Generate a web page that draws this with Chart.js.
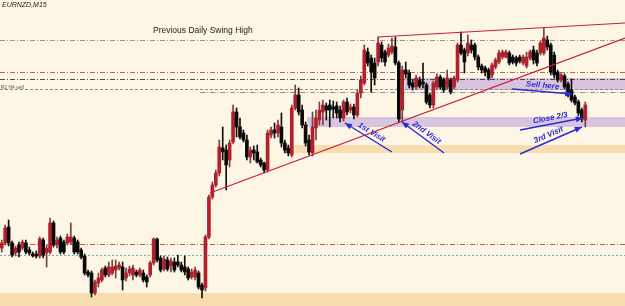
<!DOCTYPE html>
<html>
<head>
<meta charset="utf-8">
<script src="https://cdn.jsdelivr.net/npm/chart.js@4.4.1/dist/chart.umd.min.js"></script>
<style>
html,body{margin:0;padding:0;background:#fdf6e4;overflow:hidden}
canvas{display:block}
</style>
</head>
<body>
<canvas id="c" width="625" height="306"></canvas>
<script>
// === Data: EURNZD M15 candles, price in chart units (0 = bottom edge of the window) ===
const symbol = 'EURNZD,M15';
const opens = [58,63,79,63,53,61,58,63,56,52, 52,50,66,53,54,83,61,68,64,63, 64,68,64,56,50,34,33,13,23,26,
  38,31,33,36,38,39,28,33,31,34, 31,33,29,31,43,67,48,37,46,40, 44,44,41,39,37,29,29,33,21,18,
  69,109,121,133,158,156,146,164,194,179, 173,166,149,156,154,146,143,136,171,176, 173,179,163,158,151,198,211,196,181,166,
  153,178,186,194,200,201,199,200,196,188, 204,196,199,191,213,223,254,248,243,244, 261,254,251,254,259,243,196,236,233,223,
  219,226,224,221,211,201,219,229,226,219, 226,219,226,261,256,253,261,261,249,240, 238,236,231,239,244,249,249,253,249,248,
  249,243,240,248,256,253,253,253,266,261, 251,234,226,230,222,216,209,204,196,186];
const highs = [66,81,86,65,60,64,66,66,59,54, 55,69,68,61,88,85,69,70,66,72, 83,70,66,58,52,36,35,26,33,38,
  40,44,46,46,44,44,38,40,41,36, 38,36,31,45,68,68,50,50,49,48, 48,51,44,50,39,37,39,35,23,71,
  111,124,136,166,179,161,166,201,198,188, 176,171,159,160,161,148,144,176,179,183, 186,193,166,161,201,221,218,201,184,171,
  194,196,204,206,203,206,205,204,200,206, 208,202,202,216,230,261,258,251,248,269, 264,256,262,268,269,245,240,244,236,226,
  231,229,243,223,213,225,232,231,228,236, 228,230,263,274,258,271,266,263,251,242, 240,238,243,248,256,256,256,255,251,250,
  251,251,254,256,260,256,265,278,270,263, 254,236,233,232,224,227,211,206,198,204];
const lows = [54,61,60,49,50,49,56,52,51,49, 48,48,48,39,52,59,58,52,52,61, 62,52,52,47,31,29,9,11,19,24,
  29,29,31,28,36,16,25,30,26,29, 29,24,19,29,41,44,34,35,35,34, 34,39,34,31,26,27,26,17,8,15,
  67,107,119,130,146,116,139,162,169,167, 164,146,143,146,143,139,133,134,168,168, 169,159,153,150,149,196,191,178,160,151,
  150,166,181,181,186,179,188,188,184,185, 191,193,187,189,208,221,240,214,221,240, 244,240,249,252,241,184,185,228,218,216,
  217,218,218,202,198,198,217,217,214,217, 212,217,224,251,233,250,253,246,236,233, 230,226,228,237,242,247,248,241,242,240,
  243,241,238,246,242,240,251,251,256,231, 228,224,224,217,209,204,201,190,184,179];
const closes = [63,78,63,51,58,54,64,54,53,50, 50,67,51,58,83,61,66,54,54,69, 69,54,54,49,33,31,13,24,28,36,
  31,39,39,40,41,26,33,37,38,31, 36,26,24,43,67,46,36,47,37,45, 36,41,36,34,28,34,36,19,16,69,
  109,121,133,159,154,141,163,194,179,169, 166,149,156,153,144,141,136,173,176,173, 181,163,156,153,198,211,194,181,163,154,
  179,188,196,201,196,196,197,193,188,204, 194,199,191,213,226,256,243,234,228,263, 248,244,258,260,243,187,236,232,221,219,
  228,220,222,204,201,223,229,219,216,228, 214,228,261,253,244,263,256,249,239,236, 234,228,241,246,253,254,254,243,244,243,
  245,249,249,254,246,243,263,268,259,234, 231,226,231,219,211,206,203,193,187,201];
const slots = 181; // bar slots across the window (candles + empty space on the right)

// horizontal levels: price and the bar index where each one starts
const levelPrices = [266, 234, 227, 217, 214, 62, 51];
const levelStart  = [-0.5, -0.5, -0.5, -0.5, 57.5, -0.5, -0.5];
// zones: [low, high] and start index (they run to the right edge)
const zoneRanges = [[0,13], [153,161], [179,189], [216,228]];
const zoneStart  = [-0.5, 81.5, 88.4, 116.8];
// trendlines: [index, price] pairs
const trendFrom = [[60.3,113], [109,269]];
const trendTo   = [[180.5,268], [180.5,283]];
// arrows: tail -> head
const arrowLabels = ['1st Visit', '2nd Visit', 'Sell here', 'Close 2/3', '3rd Visit'];
const arrowTail = [[113,154], [128.1,153], [147.8,217], [150.1,176], [150.1,152]];
const arrowHead = [[99.4,183], [115.9,184], [165.2,212], [168.3,188], [168,179]];
const swingLabel = {text:'Previous Daily Swing High', at:[43.8,275]};
const levelLabel = {text:'R2 H4 sell', at:[-0.3,217]};

// === Styles ===
const BG = '#fdf6e4';
const UP = '#b3202c', DOWN = '#0a0a0a';
const levelStyles = [
  {color:'#a39484', dash:[5,2,1,2]},
  {color:'#b86a5c', dash:[5,2,1,2]},
  {color:'#4a4a5a', dash:[5,2,1,2]},
  {color:'#8c8c8c', dash:[3,2]},
  {color:'#8c8c8c', dash:[5,2,1,2]},
  {color:'#b45a50', dash:[5,2,1,2]},
  {color:'#78aac4', dash:[2,2]}
];
const zoneColors = ['#f7ddb0', '#f7ddb0', '#d9c4df', '#d9c4df'];
const TREND = '#c81e3c', ARROW = '#2a2ad6';

const bull = opens.map((o,i)=>closes[i]>=o);

const overlay = {
  id:'overlay',
  beforeDraw(chart){
    const {ctx,width,height}=chart;
    ctx.save(); ctx.fillStyle=BG; ctx.fillRect(0,0,width,height); ctx.restore();
  },
  beforeDatasetsDraw(chart){
    const {ctx, chartArea:a, scales:{x,y}} = chart;
    ctx.save();
    zoneRanges.forEach((z,k)=>{
      const x0=x.getPixelForValue(zoneStart[k]), yt=y.getPixelForValue(z[1]), yb=y.getPixelForValue(z[0]);
      ctx.fillStyle=zoneColors[k]; ctx.fillRect(x0,yt,a.right-x0,yb-yt);
    });
    levelPrices.forEach((p,k)=>{
      const py=Math.round(y.getPixelForValue(p))+0.5;
      ctx.strokeStyle=levelStyles[k].color; ctx.setLineDash(levelStyles[k].dash); ctx.lineWidth=1;
      ctx.beginPath(); ctx.moveTo(x.getPixelForValue(levelStart[k]),py); ctx.lineTo(a.right,py); ctx.stroke();
    });
    ctx.setLineDash([]);
    // texts on the chart
    ctx.fillStyle='#5a5a5a'; ctx.font='5px "Liberation Sans", Arial, sans-serif'; ctx.textBaseline='bottom';
    ctx.fillText(levelLabel.text, x.getPixelForValue(levelLabel.at[0]), y.getPixelForValue(levelLabel.at[1])+1);
    ctx.fillStyle='#1a1a1a'; ctx.font='8.5px "Liberation Sans", Arial, sans-serif'; ctx.textBaseline='middle';
    ctx.fillText(swingLabel.text, x.getPixelForValue(swingLabel.at[0]), y.getPixelForValue(swingLabel.at[1]));
    ctx.font='italic 7px "Liberation Sans Narrow", "Liberation Sans", sans-serif'; ctx.textBaseline='top';
    ctx.fillText(symbol, a.left+2, a.top+2);
    ctx.restore();
  },
  afterDatasetsDraw(chart){
    const {ctx, scales:{x,y}} = chart;
    const P = pt=>[x.getPixelForValue(pt[0]), y.getPixelForValue(pt[1])];
    ctx.save();
    ctx.strokeStyle=TREND; ctx.lineWidth=1.2;
    trendFrom.forEach((f,k)=>{
      const [x1,y1]=P(f), [x2,y2]=P(trendTo[k]);
      ctx.beginPath(); ctx.moveTo(x1,y1); ctx.lineTo(x2,y2); ctx.stroke();
    });
    ctx.strokeStyle=ARROW; ctx.fillStyle=ARROW; ctx.lineWidth=1.4;
    ctx.font='italic bold 8px "Liberation Sans", Arial, sans-serif'; ctx.textAlign='center'; ctx.textBaseline='middle';
    arrowTail.forEach((t,k)=>{
      const [x1,y1]=P(t), [x2,y2]=P(arrowHead[k]);
      ctx.beginPath(); ctx.moveTo(x1,y1); ctx.lineTo(x2,y2); ctx.stroke();
      const a=Math.atan2(y2-y1,x2-x1), L=7, W=3;
      ctx.beginPath(); ctx.moveTo(x2,y2);
      ctx.lineTo(x2-L*Math.cos(a)+W*Math.sin(a), y2-L*Math.sin(a)-W*Math.cos(a));
      ctx.lineTo(x2-L*Math.cos(a)-W*Math.sin(a), y2-L*Math.sin(a)+W*Math.cos(a));
      ctx.closePath(); ctx.fill();
      // label along the arrow, on its upper side
      const l = x1<x2 ? [x1,y1,x2,y2] : [x2,y2,x1,y1];
      const th=Math.atan2(l[3]-l[1], l[2]-l[0]);
      const mx=(x1+x2)/2+6*Math.sin(th), my=(y1+y2)/2-6*Math.cos(th);
      ctx.save(); ctx.translate(mx,my); ctx.rotate(th); ctx.fillText(arrowLabels[k],0,0); ctx.restore();
    });
    ctx.restore();
  }
};

const labels = Array.from({length:slots},(_,i)=>i);
new Chart(document.getElementById('c'), {
  type:'bar',
  data:{
    labels,
    datasets:[
      { label:'wick', data: lows.map((l,i)=>[l,highs[i]]), backgroundColor: bull.map(b=>b?'#7a3e42':'#111'),
        barThickness:1, grouped:false, order:2 },
      { label:'body', data: opens.map((o,i)=>[o,closes[i]]), backgroundColor: bull.map(b=>b?UP:DOWN),
        barThickness:3, grouped:false, order:1 }
    ]
  },
  options:{
    responsive:false, animation:false, devicePixelRatio:1,
    layout:{padding:0},
    plugins:{legend:{display:false}, tooltip:{enabled:false}},
    scales:{
      x:{display:false, offset:true},
      y:{display:false, min:0, max:306}
    }
  },
  plugins:[overlay]
});
</script>
</body>
</html>
